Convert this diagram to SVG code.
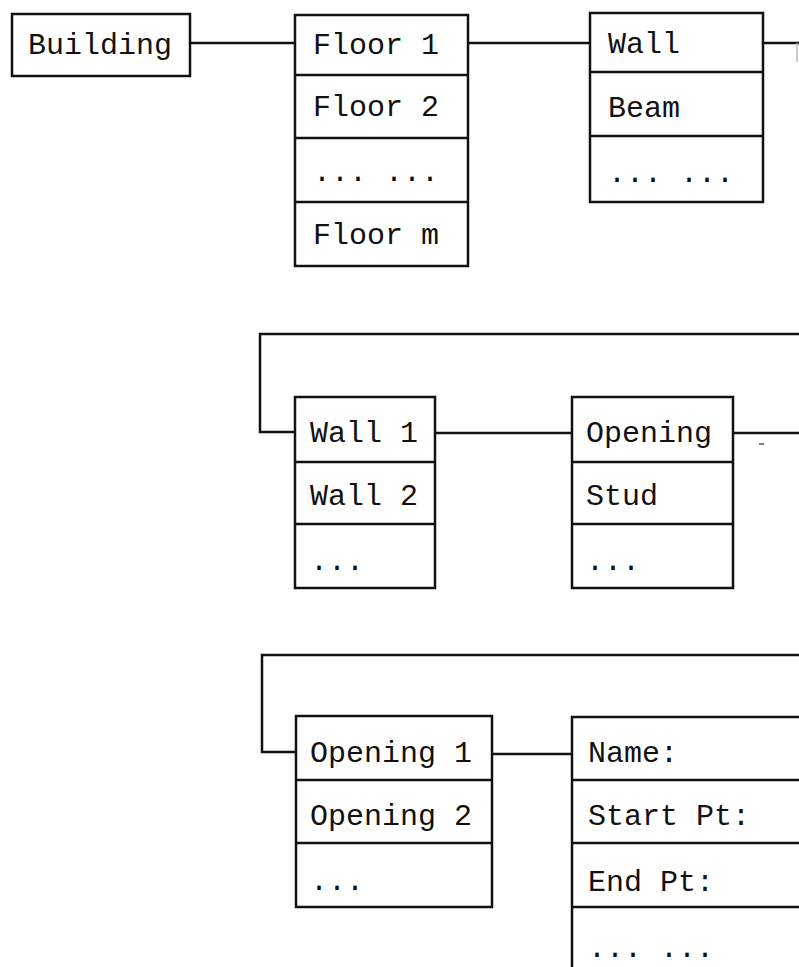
<svg xmlns="http://www.w3.org/2000/svg" width="799" height="967" viewBox="0 0 799 967">
<style>
.b{fill:#fff;stroke:#111;stroke-width:2.5}
.s{stroke:#111;stroke-width:2.5;fill:none}
.t{font-family:"Liberation Mono","Courier New",monospace;font-size:30px;fill:#111}
</style>
<rect width="799" height="967" fill="#fff"/>
<g id="connectors">
<path class="s" d="M190 43H295"/>
<path class="s" d="M468 43H590"/>
<path class="s" d="M763 43H799"/>
<path d="M797 43V62" stroke="#bbb" stroke-width="1.5"/>
<path class="s" d="M799 334H260V432H295"/>
<path class="s" d="M435 433H572"/>
<path class="s" d="M733 433H799"/>
<path d="M759 444H764" stroke="#555" stroke-width="1.5"/>
<path class="s" d="M799 655H262V752H296"/>
<path class="s" d="M492 754H572"/>
</g>
<g id="building">
<rect class="b" x="12" y="14" width="178" height="62"/>
<text class="t" x="28" y="54">Building</text>
</g>
<g id="floors">
<rect class="b" x="295" y="15" width="173" height="251"/>
<path class="s" d="M295 75H468M295 138H468M295 202H468"/>
<text class="t" x="313" y="54">Floor 1</text>
<text class="t" x="313" y="116">Floor 2</text>
<text class="t" x="313" y="181">... ...</text>
<text class="t" x="313" y="244">Floor m</text>
</g>
<g id="floor-elements">
<rect class="b" x="590" y="13" width="173" height="189"/>
<path class="s" d="M590 72H763M590 136H763"/>
<text class="t" x="608" y="53">Wall</text>
<text class="t" x="608" y="117">Beam</text>
<text class="t" x="608" y="182">... ...</text>
</g>
<g id="walls">
<rect class="b" x="295" y="397" width="140" height="191"/>
<path class="s" d="M295 462H435M295 524H435"/>
<text class="t" x="310" y="442">Wall 1</text>
<text class="t" x="310" y="505">Wall 2</text>
<text class="t" x="310" y="570">...</text>
</g>
<g id="wall-elements">
<rect class="b" x="572" y="397" width="161" height="191"/>
<path class="s" d="M572 462H733M572 524H733"/>
<text class="t" x="586" y="442">Opening</text>
<text class="t" x="586" y="505">Stud</text>
<text class="t" x="586" y="570">...</text>
</g>
<g id="openings">
<rect class="b" x="296" y="716" width="196" height="191"/>
<path class="s" d="M296 780H492M296 843H492"/>
<text class="t" x="310" y="762">Opening 1</text>
<text class="t" x="310" y="825">Opening 2</text>
<text class="t" x="310" y="890">...</text>
</g>
<g id="opening-attributes">
<path class="s" d="M810 717H572V970"/>
<path class="s" d="M572 780H810M572 843H810M572 907H810"/>
<text class="t" x="588" y="762">Name:</text>
<text class="t" x="588" y="825">Start Pt:</text>
<text class="t" x="588" y="891">End Pt:</text>
<text class="t" x="588" y="957">... ...</text>
</g>
</svg>
